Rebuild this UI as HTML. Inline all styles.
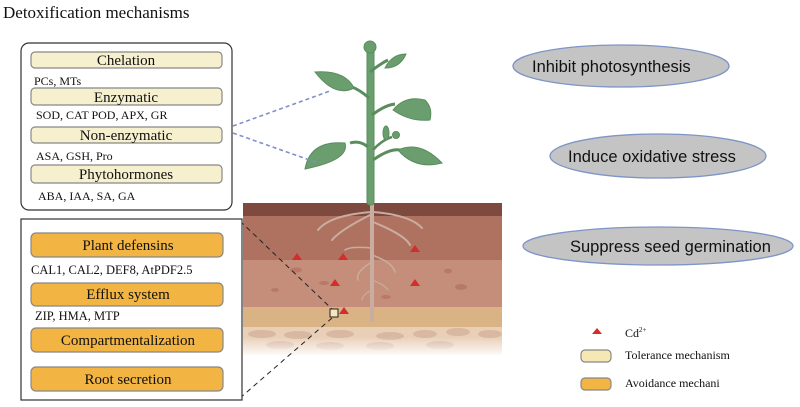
<!DOCTYPE html>
<html><head><meta charset="utf-8"><style>
html,body{margin:0;padding:0;background:#fff;width:800px;height:407px;overflow:hidden}
svg{display:block}
.s{font-family:"Liberation Serif",serif;fill:#111}
.a{font-family:"Liberation Sans",sans-serif;fill:#111}
</style></head><body>
<svg width="800" height="407" viewBox="0 0 800 407" xmlns="http://www.w3.org/2000/svg">
<defs>
<linearGradient id="fade" x1="0" y1="0" x2="0" y2="1">
<stop offset="0" stop-color="#fff" stop-opacity="0"/><stop offset="1" stop-color="#fff" stop-opacity="1"/>
</linearGradient>
</defs>
<text x="3" y="18" class="s" font-size="17">Detoxification mechanisms</text>

<rect x="243" y="203" width="259" height="14" fill="#7e4a40"/>
<rect x="243" y="216" width="259" height="44" fill="#b07260"/>
<rect x="243" y="260" width="259" height="47" fill="#c48e7b"/>
<rect x="243" y="307" width="259" height="20" fill="#d9b384"/>
<rect x="243" y="327" width="259" height="28" fill="#e9cfb7"/>
<g fill="#d8b8a0">
<ellipse cx="262" cy="334" rx="14" ry="4"/><ellipse cx="298" cy="335" rx="14" ry="4"/><ellipse cx="340" cy="334" rx="14" ry="4"/><ellipse cx="390" cy="336" rx="14" ry="4"/><ellipse cx="425" cy="334" rx="12" ry="4"/><ellipse cx="458" cy="332" rx="12" ry="4"/><ellipse cx="490" cy="334" rx="12" ry="4"/>
<ellipse cx="280" cy="345" rx="14" ry="4"/><ellipse cx="330" cy="346" rx="14" ry="4"/><ellipse cx="380" cy="346" rx="14" ry="4"/><ellipse cx="440" cy="345" rx="14" ry="4"/>
</g>
<rect x="243" y="337" width="259" height="20" fill="url(#fade)"/>
<g fill="#b87a66"><ellipse cx="296" cy="270" rx="6" ry="2.5"/><ellipse cx="324" cy="283" rx="5" ry="2"/><ellipse cx="275" cy="290" rx="4" ry="2"/><ellipse cx="386" cy="297" rx="5" ry="2"/><ellipse cx="448" cy="271" rx="4" ry="2.5"/><ellipse cx="461" cy="287" rx="6" ry="3"/></g>
<g stroke="#c9ada0" fill="none" stroke-linecap="round">
<path d="M372 205 L372 320" stroke-width="4"/>
<path d="M372 212 Q330 215 318 230" stroke-width="2"/>
<path d="M372 214 Q340 230 332 240" stroke-width="2"/>
<path d="M373 212 Q410 215 422 228" stroke-width="2"/>
<path d="M373 222 Q405 235 410 245" stroke-width="2"/>
<path d="M372 248 Q350 246 345 250" stroke-width="1.5"/>
<path d="M372 255 Q392 262 395 272" stroke-width="1.5"/>
<path d="M372 262 Q355 272 358 280" stroke-width="1.5"/>
<path d="M372 280 Q385 285 388 290" stroke-width="1.2"/>
<path d="M372 290 Q362 295 362 300" stroke-width="1.2"/>
</g>
<g fill="#6b9e6e" stroke="#5a8d5e" stroke-width="1">
<rect x="367" y="48" width="7" height="157" rx="3"/>
<circle cx="370" cy="47" r="6"/>
<path d="M370 72 Q380 64 388 60" stroke-width="3" fill="none"/>
<path d="M385 68 Q392 54 406 54 Q400 68 385 68 Z"/>
<path d="M369 98 Q360 90 352 87" stroke-width="3" fill="none"/>
<path d="M315 72 Q345 70 354 88 Q335 98 315 72 Z"/>
<path d="M372 115 Q385 105 395 104" stroke-width="3" fill="none"/>
<path d="M393 110 Q405 95 425 100 Q433 108 430 120 Q410 122 393 110 Z"/>
<path d="M368 147 Q360 140 350 143" stroke-width="3" fill="none"/>
<path d="M305 169 Q310 140 345 143 Q350 160 305 169 Z"/>
<path d="M373 160 Q390 148 400 150" stroke-width="3" fill="none"/>
<path d="M398 150 Q420 140 442 163 Q415 170 398 150 Z"/>
<path d="M373 150 Q382 140 392 137" stroke-width="2.5" fill="none"/>
<ellipse cx="386" cy="133" rx="3" ry="7"/>
<circle cx="396" cy="135" r="3.5"/>
</g>
<g fill="#d42d2d">
<polygon points="292,260 297,253 302,260"/><polygon points="338,260 343,253 348,260"/><polygon points="410,252 415,245 420,252"/>
<polygon points="330,286 335,279 340,286"/><polygon points="410,286 415,279 420,286"/><polygon points="339,314 344,307 349,314"/>
</g>
<g stroke="#7f90c8" stroke-width="1.6" stroke-dasharray="4,3" fill="none">
<line x1="233" y1="126" x2="330" y2="91"/><line x1="233" y1="133" x2="318" y2="163"/>
</g>
<g stroke="#222" stroke-width="1" stroke-dasharray="5,4" fill="none">
<line x1="240" y1="221" x2="332" y2="309"/><line x1="240" y1="398" x2="332" y2="318"/>
</g>
<rect x="330" y="309" width="8" height="8" fill="#f5e6c0" stroke="#222" stroke-width="1"/>

<rect x="21" y="43" width="211" height="167" rx="8" fill="#fff" stroke="#333" stroke-width="1.2"/>
<g fill="#f6f0cf" stroke="#888" stroke-width="1.2">
<rect x="31" y="52" width="191" height="16" rx="4"/>
<rect x="31" y="88" width="191" height="17" rx="4"/>
<rect x="31" y="127" width="191" height="16" rx="4"/>
<rect x="31" y="165" width="191" height="18" rx="4"/>
</g>
<g text-anchor="middle" font-size="15">
<text x="126" y="65" class="s">Chelation</text>
<text x="126" y="102" class="s">Enzymatic</text>
<text x="126" y="140" class="s">Non-enzymatic</text>
<text x="126" y="179" class="s">Phytohormones</text>
</g>
<g font-size="12">
<text x="34" y="85" class="s">PCs, MTs</text>
<text x="36" y="119" class="s">SOD, CAT POD, APX, GR</text>
<text x="36" y="160" class="s">ASA, GSH, Pro</text>
<text x="38" y="200" class="s">ABA, IAA, SA, GA</text>
</g>

<rect x="21" y="219" width="221" height="181" fill="#fff" stroke="#333" stroke-width="1.2"/>
<g fill="#f2b443" stroke="#888" stroke-width="1.2">
<rect x="31" y="233" width="192" height="24" rx="5"/>
<rect x="31" y="283" width="192" height="23" rx="5"/>
<rect x="31" y="328" width="192" height="24" rx="5"/>
<rect x="31" y="367" width="192" height="24" rx="5"/>
</g>
<g text-anchor="middle" font-size="15">
<text x="128" y="250" class="s">Plant defensins</text>
<text x="128" y="299" class="s">Efflux system</text>
<text x="128" y="345" class="s">Compartmentalization</text>
<text x="128" y="384" class="s">Root secretion</text>
</g>
<g font-size="12.5">
<text x="31" y="274" class="s">CAL1, CAL2, DEF8, AtPDF2.5</text>
<text x="35" y="320" class="s">ZIP, HMA, MTP</text>
</g>

<g fill="#c4c4c4" stroke="#7f95c8" stroke-width="1.3">
<ellipse cx="621" cy="66" rx="108" ry="21"/>
<ellipse cx="658" cy="156" rx="108" ry="22"/>
<ellipse cx="658" cy="246" rx="135" ry="19"/>
</g>
<g font-size="16.5">
<text x="532" y="72" class="a">Inhibit photosynthesis</text>
<text x="568" y="162" class="a">Induce oxidative stress</text>
<text x="570" y="252" class="a">Suppress seed germination</text>
</g>

<polygon points="592,334 597,328 602,334" fill="#d42d2d"/>
<text x="625" y="337" class="s" font-size="12">Cd<tspan font-size="7" dy="-5">2+</tspan></text>
<rect x="581" y="350" width="30" height="12" rx="4" fill="#f6e8b4" stroke="#888" stroke-width="1.2"/>
<text x="625" y="359" class="s" font-size="12">Tolerance mechanism</text>
<rect x="581" y="378" width="30" height="12" rx="4" fill="#f2b443" stroke="#888" stroke-width="1.2"/>
<text x="625" y="387" class="s" font-size="12">Avoidance mechani</text>
</svg>
</body></html>
